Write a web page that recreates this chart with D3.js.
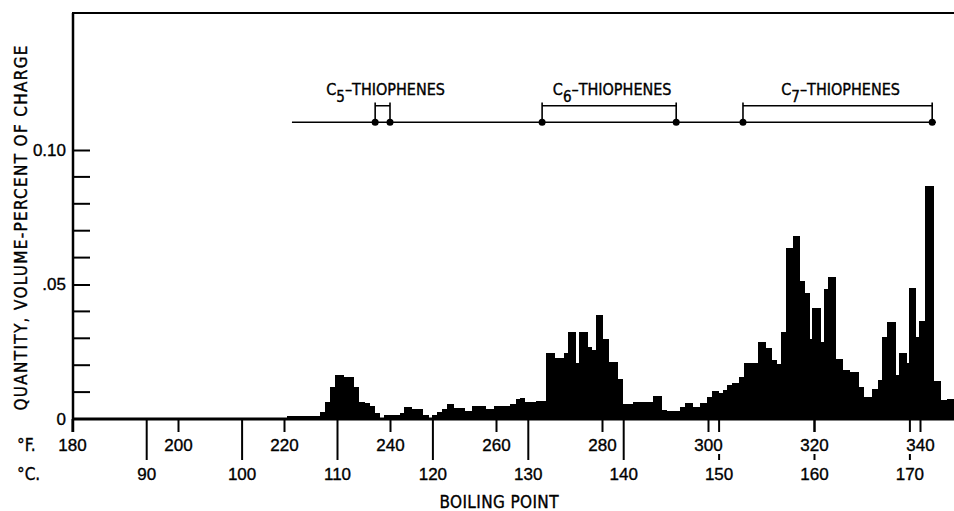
<!DOCTYPE html>
<html>
<head>
<meta charset="utf-8">
<script src="https://cdn.jsdelivr.net/npm/d3@7"></script>
<style>
  html, body { margin: 0; padding: 0; background: #fff; }
  svg { display: block; font-family: "DejaVu Sans Condensed", "Liberation Sans Narrow", "DejaVu Sans", sans-serif; font-stretch: condensed; }
  .ink { stroke: #000; stroke-width: 0.35px; }
</style>
</head>
<body>
<svg id="chart" width="954" height="511"></svg>
<script>
// Histogram of thiophene distillate: bin boundaries in °F and quantity per bin
const binEdgesF = [180, 220.5, 226.7, 227.7, 228.7, 229.7, 231.3, 233.2, 234.2, 235.3,
  236.2, 237.2, 238.2, 238.9, 241.8, 242.6, 244.1, 246.3, 247.4, 247.9,
  248.8, 249.9, 250.7, 252.1, 254.2, 255.4, 258.2, 259.6, 262.6, 263.7,
  264.5, 265.5, 267.5, 269.5, 271.1, 272.9, 273.6, 275.1, 275.7, 277.3,
  278.1, 278.8, 280.2, 281.3, 283.1, 284.0, 285.8, 289.6, 291.3, 292.2,
  294.7, 295.7, 297.2, 298.5, 299.9, 300.7, 302.1, 302.9, 303.6, 304.5,
  305.9, 306.7, 309.5, 310.9, 312.0, 313.1, 313.7, 314.7, 316.0, 317.4,
  318.3, 319.2, 319.7, 321.3, 321.8, 322.7, 324.2, 325.4, 326.7, 328.4,
  329.5, 330.9, 332.0, 332.9, 333.8, 335.4, 336.1, 337.5, 337.9, 339.2,
  339.8, 340.9, 342.6, 343.9, 345.1, 346.4];

const quantity = [0.0005, 0.0012, 0.0025, 0.0064, 0.0120, 0.0165, 0.0157, 0.0118, 0.0064, 0.0058,
  0.0048, 0.0023, 0.0003, 0.0014, 0.0023, 0.0046, 0.0036, 0.0015, 0.0005, 0.0015,
  0.0027, 0.0036, 0.0055, 0.0040, 0.0030, 0.0047, 0.0038, 0.0047, 0.0056, 0.0074,
  0.0077, 0.0064, 0.0067, 0.0246, 0.0226, 0.0244, 0.0325, 0.0209, 0.0325, 0.0269,
  0.0257, 0.0386, 0.0296, 0.0213, 0.0148, 0.0057, 0.0064, 0.0084, 0.0033, 0.0030,
  0.0046, 0.0058, 0.0046, 0.0058, 0.0081, 0.0105, 0.0098, 0.0108, 0.0126, 0.0135,
  0.0157, 0.0207, 0.0287, 0.0263, 0.0219, 0.0204, 0.0325, 0.0637, 0.0681, 0.0513,
  0.0467, 0.0296, 0.0412, 0.0287, 0.0483, 0.0527, 0.0222, 0.0182, 0.0176, 0.0120,
  0.0083, 0.0110, 0.0145, 0.0306, 0.0362, 0.0164, 0.0246, 0.0209, 0.0486, 0.0306,
  0.0364, 0.0866, 0.0142, 0.0071, 0.0075];

// Axis ticks
const fahrenheitTicks = [180, 200, 220, 240, 260, 280, 300, 320, 340];
const celsiusTicks = [90, 100, 110, 120, 130, 140, 150, 160, 170];
const yLabelTicks = [0, 0.05, 0.10];
const yLabelText = ["0", ".05", "0.10"];
const yMinorTicks = [0.01, 0.02, 0.03, 0.04, 0.06, 0.07, 0.08, 0.09];

// Boiling ranges of the thiophene groups (°F)
const groupCarbons = ["5", "6", "7"];
const groupLowF = [237.2, 268.7, 306.6];
const groupHighF = [240.0, 294.0, 342.3];
const rangeLineF = [221.5, 343.0];

const svg = d3.select("#chart");
const W = 954;

const x = d3.scaleLinear().domain([180, 340]).range([72, 920]);
const xBar = x.copy().interpolate(d3.interpolateRound);
const toF = c => c * 9 / 5 + 32;
const xC = d3.scaleLinear()
  .domain([(180 - 32) * 5 / 9, (340 - 32) * 5 / 9])
  .range([72, 920]);
const y = d3.scaleLinear().domain([0, 0.10]).range([419, 150]);
const yTop = 13;

// Bars (edges snapped to whole pixels so neighbouring bars join cleanly)
svg.append("g")
  .attr("shape-rendering", "crispEdges")
  .selectAll("rect")
  .data(quantity)
  .join("rect")
  .attr("x", (d, i) => xBar(binEdgesF[i]))
  .attr("width", (d, i) => xBar(binEdgesF[i + 1]) - xBar(binEdgesF[i]))
  .attr("y", d => y(d))
  .attr("height", d => y(0) - y(d) + 1)
  .attr("fill", "#000");

// Celsius axis: long ticks, broken where a Fahrenheit label sits across them
const axC = d3.axisBottom(xC).tickValues(celsiusTicks).tickSize(41).tickPadding(8).tickFormat(d3.format("d"));
const gC = svg.append("g").attr("transform", `translate(0,${y(0)})`).call(axC);
gC.select(".domain").remove();
gC.selectAll(".tick").each(function (c) {
  const tick = d3.select(this);
  const hit = fahrenheitTicks.some(f => Math.abs(x(f) - xC(c)) < 17);
  if (hit) {
    tick.select("line").attr("y2", 13);
    tick.insert("line", "text").attr("y1", 35).attr("y2", 41);
  }
});
gC.selectAll("line").attr("stroke", "#000").attr("stroke-width", 2);
gC.selectAll("text").attr("font-size", 17).attr("fill", "#000").attr("class", "ink");

// Fahrenheit axis
const axF = d3.axisBottom(x).tickValues(fahrenheitTicks).tickSize(13).tickPadding(7).tickFormat(d3.format("d"));
const gF = svg.append("g").attr("transform", `translate(0,${y(0)})`).call(axF);
gF.select(".domain").remove();
gF.selectAll("line").attr("stroke", "#000").attr("stroke-width", 2);
gF.selectAll("text").attr("font-size", 17).attr("fill", "#000").attr("class", "ink");

// Y axis ticks pointing inward
const axY = d3.axisLeft(y).tickValues(yLabelTicks).tickSize(-17).tickPadding(7)
  .tickFormat((d, i) => yLabelText[i]);
const gY = svg.append("g").attr("transform", `translate(73,0)`).call(axY);
gY.select(".domain").remove();
gY.selectAll("line").attr("stroke", "#000").attr("stroke-width", 2);
gY.selectAll("text").attr("font-size", 17).attr("fill", "#000").attr("class", "ink");
gY.selectAll(".tick").filter(d => d === 0).select("line").remove();

svg.append("g")
  .selectAll("line")
  .data(yMinorTicks)
  .join("line")
  .attr("x1", 73).attr("x2", 90)
  .attr("y1", d => y(d)).attr("y2", d => y(d))
  .attr("stroke", "#000").attr("stroke-width", 2);

// Frame: left axis, top rule, baseline
svg.append("line").attr("x1", 73).attr("x2", 73).attr("y1", yTop).attr("y2", y(0) + 13)
  .attr("stroke", "#000").attr("stroke-width", 2.5);
svg.append("line").attr("x1", 72).attr("x2", W).attr("y1", yTop).attr("y2", yTop)
  .attr("stroke", "#000").attr("stroke-width", 2);
svg.append("line").attr("x1", 72).attr("x2", W).attr("y1", y(0)).attr("y2", y(0))
  .attr("stroke", "#000").attr("stroke-width", 3);

// Scale unit labels
svg.append("text").attr("class", "ink").attr("x", 17).attr("y", 451).attr("font-size", 17).text("°F.");
svg.append("text").attr("class", "ink").attr("x", 17).attr("y", 480).attr("font-size", 17).text("°C.");

// Axis titles
svg.append("text")
  .attr("class", "ink")
  .attr("x", 499).attr("y", 508)
  .attr("text-anchor", "middle")
  .attr("font-size", 17)
  .attr("textLength", 119).attr("lengthAdjust", "spacing")
  .text("BOILING POINT");

svg.append("text")
  .attr("class", "ink")
  .attr("transform", "translate(27,228) rotate(-90)")
  .attr("text-anchor", "middle")
  .attr("font-size", 17)
  .attr("textLength", 365).attr("lengthAdjust", "spacing")
  .text("QUANTITY, VOLUME-PERCENT OF CHARGE");

// Thiophene boiling-range markers
const lineY = 122.3, brTop = 102.5, brBar = 105.7;
svg.append("line")
  .attr("x1", x(rangeLineF[0])).attr("x2", x(rangeLineF[1]))
  .attr("y1", lineY).attr("y2", lineY)
  .attr("stroke", "#000").attr("stroke-width", 1.6);

const groups = svg.append("g")
  .selectAll("g")
  .data(groupCarbons)
  .join("g");

groups.each(function (c, i) {
  const g = d3.select(this);
  const x0 = x(groupLowF[i]), x1 = x(groupHighF[i]);
  g.append("path")
    .attr("d", `M${x0},${lineY}V${brTop}M${x0},${brBar}H${x1}M${x1},${brTop}V${lineY}`)
    .attr("fill", "none").attr("stroke", "#000").attr("stroke-width", 1.6);
  g.selectAll("circle")
    .data([x0, x1])
    .join("circle")
    .attr("cx", d => d).attr("cy", lineY).attr("r", 3.5).attr("fill", "#000");
  const t = g.append("text")
    .attr("class", "ink")
    .attr("x", (x0 + x1) / 2 + 3).attr("y", 95)
    .attr("text-anchor", "middle")
    .attr("font-size", 16);
  t.append("tspan").text("C");
  t.append("tspan").attr("dy", 6.5).attr("font-size", 15).text(c);
  t.append("tspan").attr("dy", -6.5).text("–THIOPHENES");
});
</script>
</body>
</html>
